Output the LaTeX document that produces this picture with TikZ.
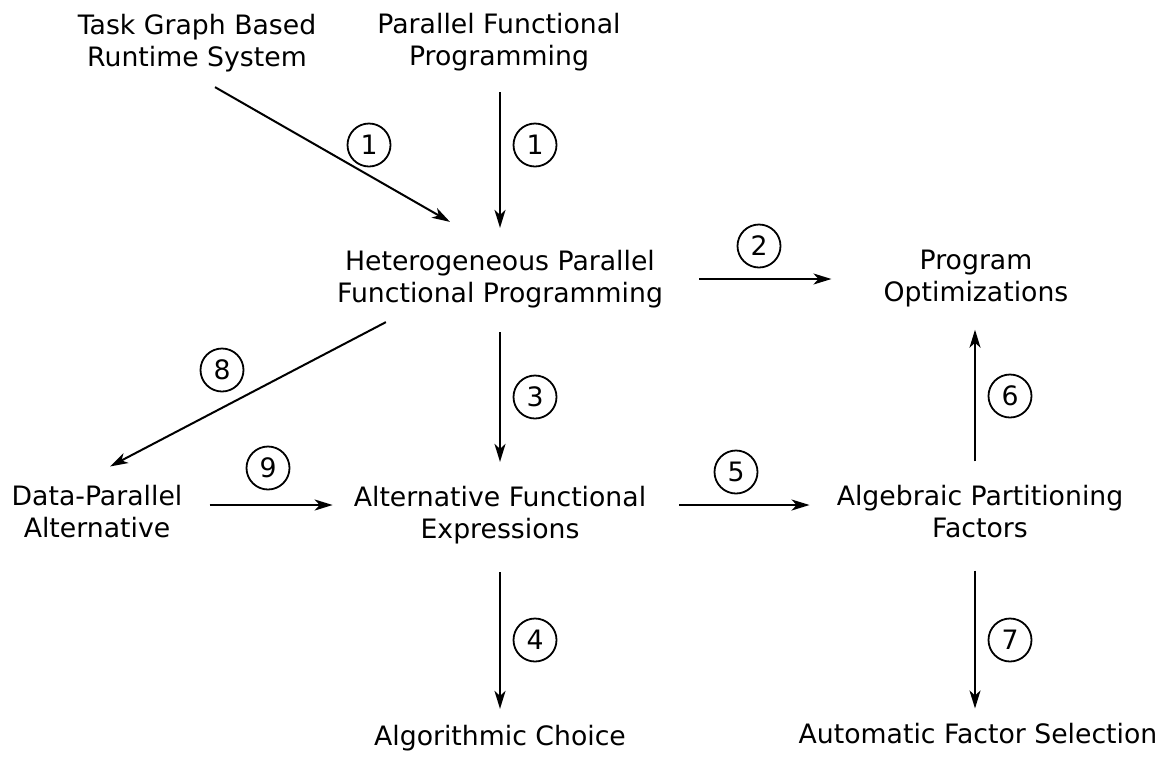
\documentclass[tikz,border=0pt]{standalone}
\usepackage{fontspec}
\setmainfont{DejaVu Sans}
\usetikzlibrary{arrows.meta}
\begin{document}
\begin{tikzpicture}[x=1pt,y=-1pt,
    every node/.style={align=center,inner sep=0pt,font=\fontsize{26.7}{32}\selectfont},
    num/.style={circle,draw,line width=1.8pt,minimum size=43pt},
    flow/.style={-{Stealth[length=18pt,width=11pt,inset=5pt]},line width=2pt}]
  \useasboundingbox (0,0) rectangle (1166,756);
  % topics
  \node (task) at (197,43) {Task Graph Based\\Runtime System};
  \node (pfp) at (499,42) {Parallel Functional\\Programming};
  \node (het) at (500,279) {Heterogeneous Parallel\\Functional Programming};
  \node (po) at (976,279) {Program\\Optimizations};
  \node (dpa) at (97,512) {Data-Parallel\\Alternative};
  \node (afe) at (500,515) {Alternative Functional\\Expressions};
  \node (apf) at (980,512) {Algebraic Partitioning\\Factors};
  \node (ac) at (500,738) {Algorithmic Choice};
  \node (afs) at (978,734) {Automatic Factor Selection};
  % steps
  \draw[flow] ([xshift=18pt,yshift=-15pt]task.south) -- ([xshift=-50pt,yshift=28pt]het.north);
  \draw[flow] ([xshift=1pt,yshift=-21pt]pfp.south) -- ([yshift=22pt]het.north);
  \draw[flow] ([xshift=36pt]het.east) -- ([xshift=-52pt]po.west);
  \draw[flow] ([yshift=-24pt]het.south) -- ([yshift=24pt]afe.north);
  \draw[flow] ([yshift=-28pt]afe.south) -- ([yshift=16pt]ac.north);
  \draw[flow] ([xshift=33pt,yshift=10pt]afe.east) -- ([xshift=-27pt,yshift=7pt]apf.west);
  \draw[flow] ([xshift=-5pt,yshift=24pt]apf.north) -- ([xshift=-1pt,yshift=-22pt]po.south);
  \draw[flow] ([xshift=-5pt,yshift=-32pt]apf.south) -- ([xshift=-3pt,yshift=15pt]afs.north);
  \draw[flow] ([xshift=49pt,yshift=-14pt]het.south west) -- ([xshift=13pt,yshift=19pt]dpa.north);
  \draw[flow] ([xshift=27pt,yshift=7pt]dpa.east) -- ([xshift=-21pt,yshift=10pt]afe.west);
  % step numbers
  \node[num] (n1a) at (369,145) {1};
  \node[num] (n1b) at (535,145) {1};
  \node[num] (n2) at (759,246) {2};
  \node[num] (n3) at (535,397) {3};
  \node[num] (n4) at (535,640) {4};
  \node[num] (n5) at (736,472) {5};
  \node[num] (n6) at (1010,396) {6};
  \node[num] (n7) at (1010,640) {7};
  \node[num] (n8) at (222,370) {8};
  \node[num] (n9) at (268,468) {9};
\end{tikzpicture}
\end{document}
